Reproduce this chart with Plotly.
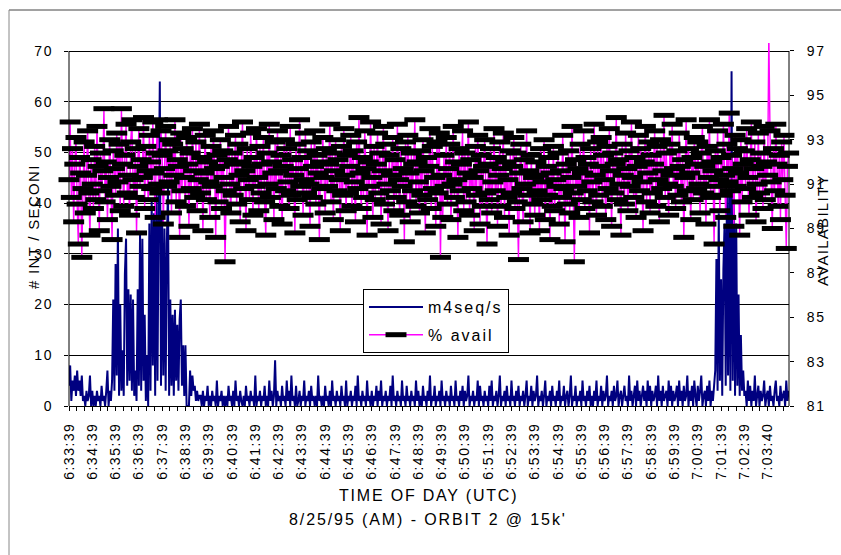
import plotly.graph_objects as go

# Sampling interval of both series, in seconds from 6:33:39
STEP_S = 3

# Minute labels along the time axis (one every 60 s)
TIME_LABELS = [
    "6:33:39", "6:34:39", "6:35:39", "6:36:39", "6:37:39", "6:38:39",
    "6:39:39", "6:40:39", "6:41:39", "6:42:39", "6:43:39", "6:44:39",
    "6:45:39", "6:46:39", "6:47:39", "6:48:39", "6:49:39", "6:50:39",
    "6:51:39", "6:52:39", "6:53:39", "6:54:39", "6:55:39", "6:56:39",
    "6:57:39", "6:58:39", "6:59:39", "7:00:39", "7:01:39", "7:02:39",
    "7:03:40",
]

# m4seq/s : interrupts per second
M4SEQ = [
    4, 8, 1, 5, 3, 6, 2, 7, 3, 5, 2, 6, 1, 2, 0, 3, 1, 2, 6, 0,
    3, 0, 2, 0, 3, 1, 2, 0, 4, 1, 2, 0, 3, 7, 0, 3, 1,
    5, 21, 3, 28, 6, 35, 2, 20, 3, 11,
    2, 26, 33, 4, 23, 5, 22, 3, 21, 2,
    7, 1, 23, 4, 34, 3, 33, 5, 18, 1,
    10, 0, 36, 3, 41, 8, 38, 2, 44, 5,
    39, 64, 4, 37, 6, 35, 3, 32, 43, 2,
    21, 4, 18, 2, 19, 5, 16, 3, 17, 21,
    4, 12, 2, 12, 0, 0, 0, 7, 2, 6,
    3, 4, 1, 3, 1, 2,
    2, 0, 3, 0, 2, 1, 4, 0, 2, 0, 3, 1, 2, 0, 5, 0, 2, 1, 3, 0, 2,
    0, 2, 0, 4, 1, 2, 0, 3, 0, 5, 1, 2, 0, 3, 1, 0, 2, 0, 4, 1, 2,
    0, 3, 1, 2, 0, 6, 0, 2, 1, 3, 0, 2, 1, 4, 0, 2, 0, 5, 1, 3, 0,
    2, 9, 0, 3, 1, 2, 0, 4, 1, 2, 0, 5, 1, 3, 0, 6, 1, 2, 0, 4, 0,
    1, 3, 0, 2, 1, 5, 0, 2, 1, 3, 0, 4, 1, 2, 0, 2, 0, 6, 1, 2, 0,
    2, 0, 4, 1, 2, 0, 3, 0, 5, 1, 2, 0, 3, 1, 2, 0, 4, 1, 2, 0, 5,
    0, 2, 1, 3, 0, 2, 1, 4, 0, 6, 1, 2, 0, 3, 1, 2, 0, 5, 1, 2, 0,
    3, 0, 2, 1, 4, 0, 3, 1, 5, 0, 2, 1, 3, 0, 2, 1, 4, 0, 6, 1, 2,
    0, 3, 1, 2, 0, 5, 1, 2, 0, 4, 1, 2, 0, 3, 1, 2, 0, 5, 1, 3, 0,
    2, 0, 4, 1, 2, 0, 3, 1, 6, 0, 2, 1, 4, 0, 2, 1, 3, 0, 5, 1, 2,
    0, 3, 1, 2, 0, 4, 1, 2, 0, 5, 1, 2, 0, 3, 1, 4, 0, 3, 1, 2, 6,
    0, 2, 1, 3, 0, 2, 1, 5, 0, 4, 1, 2, 0, 3, 1, 2, 0, 4, 1, 5, 0,
    2, 1, 3, 0, 2, 6, 0, 2, 1, 3, 0, 4, 1, 2, 0, 5, 1, 2, 0, 3, 1,
    4, 0, 2, 1, 3, 0, 2, 5, 0, 2, 1, 4, 0, 3, 1, 2, 6, 0, 2, 1, 3,
    0, 2, 5, 0, 2, 1, 3, 0, 4, 1, 2, 0, 3, 1, 5, 0, 2, 1, 4, 0, 2,
    3, 0, 2, 6, 0, 2, 1, 4, 0, 2, 1, 3, 0, 5, 1, 2, 0, 3, 1, 4, 0,
    2, 0, 3, 1, 5, 0, 2, 1, 4, 0, 3, 1, 2, 6, 0, 2, 1, 3, 0, 4, 1,
    2, 5, 0, 2, 3, 0, 2, 4, 1, 2, 0, 6, 1, 3, 0, 2, 4, 0, 5, 1, 3,
    0, 2, 4, 1, 3, 0, 5, 1, 4, 0, 3, 1, 2, 4, 0, 6, 1, 3, 0, 4, 1,
    2, 3, 0, 5, 1, 4, 0, 3, 1, 2, 4, 0, 5, 1, 3, 0, 4, 1, 2, 6, 0,
    3, 1, 4, 0, 5, 2, 0, 4, 1, 3, 6, 0, 2, 3, 0, 4, 1, 5, 0, 3, 1,
    4, 7, 29, 3, 38, 5, 25, 2, 27, 36, 4, 42, 6, 44, 3, 66, 5, 43,
    2, 36, 4, 22, 2, 14, 3, 7, 2,
    3, 0, 5, 1, 4, 0, 3, 1, 6, 0, 2, 4, 0, 3, 1, 2, 5, 0, 2, 3,
    0, 4, 1, 2, 0, 3, 5, 1, 2, 0, 4, 1, 2, 3, 0, 5, 1, 3,
]

# % avail : link availability in percent
AVAIL = [
    91.2, 93.8, 90.4, 92.6, 89.3, 91.9, 93.1, 90.1, 88.3, 92.2, 91.5, 87.7, 90.8, 92.9, 89.7, 91.4, 93.4, 90.6, 88.7, 92.1,
    91.0, 89.9, 92.7, 90.3, 93.6, 91.8, 88.9, 92.4, 90.7, 91.6, 94.4, 90.2, 92.0, 89.4, 91.3, 93.0, 90.9, 88.5, 92.5, 91.7,
    90.5, 93.3, 91.1, 92.8, 89.8, 94.4, 91.9, 90.0, 92.3, 93.7, 90.6, 91.4, 89.6, 92.9, 93.9, 91.2, 90.4, 92.6, 88.8, 91.8,
    93.5, 90.9, 92.1, 91.3, 94.0, 89.9, 92.7, 91.6, 90.3, 93.2, 92.0, 90.8, 93.8, 91.5, 89.5, 92.4, 93.9, 91.0, 90.6, 93.4,
    92.3, 89.2, 91.7, 93.6, 90.9, 92.5, 91.1, 93.0, 89.7, 92.8, 91.4, 93.9, 90.2, 92.1, 91.8, 88.6, 93.3, 90.7, 92.6, 91.3,
    90.0, 93.1, 91.9, 89.1, 92.4, 90.8, 93.5, 91.6, 90.4, 92.9, 89.8, 91.2, 93.7, 90.6, 92.2, 88.9, 91.5, 93.2, 90.3, 92.0,
    91.1, 89.5, 92.7, 90.9, 93.4, 91.7, 88.6, 92.3, 90.2, 91.8, 93.0, 89.9, 92.5, 91.3, 87.5, 90.7, 92.1, 93.6, 91.0, 89.7,
    92.4, 90.5, 91.9, 93.2, 90.1, 92.8, 91.4, 89.3, 92.0, 93.8, 90.8, 91.6, 88.9, 92.6, 91.2, 90.3, 93.3, 91.8, 89.6, 92.2,
    90.9, 93.5, 91.3, 89.8, 92.7, 90.6, 91.9, 93.1, 90.2, 88.7, 92.4, 91.0, 93.7, 90.4, 92.0, 91.5, 89.4, 92.9, 90.8, 93.4,
    91.6, 90.0, 92.3, 89.2, 91.8, 93.0, 90.7, 92.6, 91.1, 89.9, 93.6, 90.5, 92.1, 91.4, 88.8, 92.8, 90.3, 91.7, 93.9, 90.9,
    92.2, 89.6, 91.2, 93.3, 90.6, 92.5, 91.0, 89.1, 92.9, 90.4, 91.8, 93.4, 90.1, 92.3, 91.5, 88.5, 92.0, 90.8, 93.1, 91.3,
    89.7, 92.6, 90.9, 91.9, 93.7, 90.2, 92.4, 89.4, 91.6, 93.0, 90.7, 92.1, 91.2, 88.9, 92.7, 90.5, 93.5, 91.4, 89.8, 92.3,
    90.6, 91.8, 93.2, 90.0, 92.5, 91.1, 89.3, 92.9, 90.8, 94.0, 91.5, 89.9, 92.2, 90.4, 93.4, 91.7, 88.7, 92.0, 90.9, 93.8,
    91.3, 89.5, 92.7, 90.3, 91.9, 93.3, 90.6, 92.4, 89.2, 91.6, 93.6, 90.1, 92.8, 91.0, 88.9, 92.3, 90.7, 91.4, 93.1, 89.8,
    92.1, 90.4, 93.7, 91.2, 89.6, 92.6, 90.9, 91.7, 88.4, 92.9, 90.2, 93.2, 91.5, 89.3, 92.4, 90.7, 91.9, 93.9, 90.0, 92.0,
    91.1, 89.7, 92.5, 90.5, 93.0, 91.6, 88.8, 92.2, 90.3, 91.8, 93.5, 89.9, 92.7, 90.8, 91.3, 89.1, 92.9, 90.6, 93.3, 87.7,
    91.4, 89.5, 92.3, 90.9, 93.1, 90.1, 91.7, 92.8, 89.4, 91.0, 93.6, 90.4, 92.0, 91.2, 88.6, 92.6, 90.7, 91.9, 93.4, 89.8,
    92.4, 90.2, 91.5, 93.8, 89.6, 92.1, 90.8, 91.3, 88.9, 92.7, 90.5, 93.2, 91.6, 89.2, 92.3, 90.0, 91.8, 93.0, 90.6, 88.3,
    91.9, 90.3, 92.6, 89.7, 91.1, 93.5, 90.7, 92.2, 89.1, 91.4, 92.9, 90.0, 91.7, 93.3, 89.5, 92.0, 90.4, 91.2, 88.7, 92.5,
    90.6, 91.8, 93.1, 89.9, 92.4, 90.2, 87.6, 91.5, 92.8, 90.8, 89.3, 92.1, 91.0, 93.4, 90.5, 91.6, 88.8, 92.3, 90.1, 91.3,
    89.6, 92.0, 90.7, 91.4, 88.9, 92.6, 90.3, 91.1, 93.0, 89.4, 91.8, 90.5, 92.2, 88.5, 91.5, 90.0, 92.7, 89.8, 91.2, 90.9,
    92.4, 89.2, 91.6, 90.4, 93.2, 90.8, 88.4, 91.9, 90.1, 92.5, 89.7, 91.3, 93.6, 90.6, 87.5, 92.1, 90.9, 91.7, 89.5, 92.8,
    90.3, 91.5, 93.4, 89.9, 92.2, 90.7, 91.9, 88.8, 92.6, 91.1, 90.2, 93.7, 91.4, 89.6, 92.9, 90.5, 91.8, 93.1, 90.0, 92.3,
    91.2, 89.4, 92.7, 90.8, 93.5, 91.6, 89.1, 92.4, 90.6, 91.9, 94.0, 90.3, 92.1, 91.0, 88.7, 92.8, 91.4, 90.1, 93.3, 91.7,
    89.8, 92.5, 90.9, 93.8, 91.3, 90.4, 92.2, 89.5, 91.8, 93.2, 90.7, 92.6, 91.1, 88.9, 92.0, 93.6, 90.2, 91.5, 92.9, 89.7,
    92.3, 90.6, 91.9, 93.4, 90.0, 92.7, 91.2, 89.3, 93.0, 90.8, 91.6, 94.1, 90.4, 92.4, 91.0, 89.6, 92.8, 91.4, 93.7, 90.9,
    91.7, 89.9, 92.5, 90.5, 93.3, 91.8, 90.2, 92.1, 88.6, 91.3, 93.9, 90.7, 92.6, 91.5, 89.4, 92.2, 90.3, 93.1, 91.9, 90.8,
    92.9, 91.0, 89.7, 92.4, 93.6, 90.6, 91.8, 89.2, 92.7, 91.3, 93.9, 90.4, 92.0, 91.6, 88.3, 92.5, 90.9, 93.4, 91.2, 89.8,
    92.2, 90.5, 93.7, 91.4, 89.5, 92.8, 91.1, 94.2, 90.7, 92.3, 91.7, 89.1, 93.2, 90.9, 92.6, 91.5, 88.7, 93.0, 90.2, 91.9,
    92.5, 90.8, 93.5, 91.3, 89.6, 92.1, 93.8, 90.4, 91.7, 92.9, 89.3, 91.0, 93.3, 90.6, 92.4, 91.8, 89.9, 93.6, 90.3, 92.0,
    91.4, 97.8, 93.4, 91.1, 89.0, 92.6, 90.7, 93.7, 91.9, 90.0, 92.3, 89.4, 92.9, 91.2, 93.2, 90.5, 88.1, 91.8, 92.4,
]

FONT = "Arial, Liberation Sans, sans-serif"

# Axis extents: the plot box reaches slightly above the 70 / 97 gridline
X_END = 1855
Y1_TOP = 71.58
Y2_TOP = 97.36

t = [i * STEP_S for i in range(len(M4SEQ))]


def spaced(text, px):
    return f'<span style="letter-spacing:{px}px">{text}</span>'


# x ticks every 20 s, labelled once a minute
x_tickvals = list(range(0, 1841, 20))
x_ticktext = [spaced(TIME_LABELS[v // 60], 1.5) if v % 60 == 0 else "" for v in x_tickvals]

y1_vals = list(range(0, 71, 10))
y2_vals = list(range(81, 98, 2))

# points beyond the top of the right axis get no marker
avail_sizes = [0 if v > Y2_TOP else 15 for v in AVAIL]

fig = go.Figure()
fig.add_trace(go.Scatter(
    x=t, y=M4SEQ, mode="lines", name=spaced("m4seq/s", 2),
    line=dict(color="#000080", width=2, simplify=False),
    yaxis="y", legendgroup="a", hoverinfo="skip",
))
fig.add_trace(go.Scatter(
    x=t, y=AVAIL, mode="lines+markers", name=spaced("% avail", 2),
    line=dict(color="#FF00FF", width=1.4, simplify=False),
    marker=dict(symbol="line-ew", size=avail_sizes, opacity=1,
                line=dict(color="#000000", width=5)),
    cliponaxis=False, yaxis="y2", legendgroup="b", hoverinfo="skip",
))

tickfont = dict(family=FONT, size=14, color="#000000")

fig.update_layout(
    width=841, height=555,
    margin=dict(l=69, r=52, t=43, b=149),
    paper_bgcolor="white", plot_bgcolor="white",
    font=dict(family=FONT, size=14, color="#000000"),
    showlegend=True,
    legend=dict(
        x=(363 - 69) / 720, y=(406 - 289) / 363, xanchor="left", yanchor="top",
        bgcolor="white", bordercolor="#000000", borderwidth=1,
        font=dict(family=FONT, size=16, color="#000000"),
        traceorder="grouped", tracegroupgap=4, itemwidth=54,
    ),
    xaxis=dict(
        range=[0, X_END], tickmode="array", tickvals=x_tickvals, ticktext=x_ticktext,
        tickangle=-90, ticks="outside", ticklen=4, tickcolor="#000000",
        ticklabelstandoff=6, tickfont=tickfont,
        showline=True, linecolor="#000000", linewidth=1,
        showgrid=False, zeroline=False,
    ),
    xaxis2=dict(
        overlaying="x", anchor="y", range=[0, X_END], tickmode="array",
        tickvals=x_tickvals, ticks="inside", ticklen=4, tickcolor="#000000",
        showticklabels=False, showgrid=False, zeroline=False, showline=False,
    ),
    yaxis=dict(
        range=[0, Y1_TOP], tickmode="array", tickvals=y1_vals,
        ticktext=[spaced(v, 1.7) for v in y1_vals],
        ticks="outside", ticklen=4, tickcolor="#000000", ticklabelstandoff=8,
        tickfont=tickfont, showgrid=True, gridcolor="#000000", gridwidth=1,
        zeroline=False, showline=False,
    ),
    yaxis2=dict(
        overlaying="y", side="right", anchor="x", range=[81, Y2_TOP],
        tickmode="array", tickvals=y2_vals,
        ticktext=[spaced(v, 1.7) for v in y2_vals],
        ticks="outside", ticklen=4, tickcolor="#000000", ticklabelstandoff=10,
        tickfont=tickfont, showgrid=False, zeroline=False, showline=False,
    ),
    yaxis3=dict(
        overlaying="y", side="left", anchor="x", range=[0, Y1_TOP],
        tickmode="array", tickvals=y1_vals, ticks="inside", ticklen=4,
        tickcolor="#000000", showticklabels=False, showgrid=False,
        zeroline=False, showline=False,
    ),
    yaxis4=dict(
        overlaying="y", side="right", anchor="x", range=[81, Y2_TOP],
        tickmode="array", tickvals=y2_vals, ticks="inside", ticklen=4,
        tickcolor="#000000", showticklabels=False, showgrid=False,
        zeroline=False, showline=False,
    ),
)

# value-axis lines, drawn only over the labelled span
fig.add_shape(type="line", xref="paper", x0=0, x1=0, yref="y", y0=0, y1=70,
              line=dict(color="#000000", width=1))
fig.add_shape(type="line", xref="paper", x0=1, x1=1, yref="y2", y0=81, y1=97,
              line=dict(color="#000000", width=1))

# chart-area frame (top and left edges)
fig.add_shape(type="line", xref="paper", yref="paper",
              x0=(9 - 69) / 720, x1=(841 - 69) / 720,
              y0=(406 - 10) / 363, y1=(406 - 10) / 363,
              line=dict(color="#444444", width=1))
fig.add_shape(type="line", xref="paper", yref="paper",
              x0=(9 - 69) / 720, x1=(9 - 69) / 720,
              y0=(406 - 10) / 363, y1=(406 - 560) / 363,
              line=dict(color="#888888", width=1))

# axis titles
fig.add_annotation(text=spaced("TIME OF DAY (UTC)", 1.8), xref="paper", yref="paper",
                   x=(428 - 69) / 720, y=(406 - 495) / 363, showarrow=False,
                   xanchor="center", yanchor="middle", font=dict(family=FONT, size=16))
fig.add_annotation(text=spaced("8/25/95 (AM) - ORBIT 2 @ 15k'", 1.9), xref="paper", yref="paper",
                   x=(428 - 69) / 720, y=(406 - 519.5) / 363, showarrow=False,
                   xanchor="center", yanchor="middle", font=dict(family=FONT, size=16))
fig.add_annotation(text=spaced("# INT / SECONI", 1.3), xref="paper", yref="paper",
                   x=(33 - 69) / 720, y=(406 - 227) / 363, textangle=-90, showarrow=False,
                   xanchor="center", yanchor="middle", font=dict(family=FONT, size=15))
fig.add_annotation(text=spaced("AVAILABILITY", 1.3), xref="paper", yref="paper",
                   x=(822 - 69) / 720, y=(406 - 230) / 363, textangle=-90, showarrow=False,
                   xanchor="center", yanchor="middle", font=dict(family=FONT, size=15))

fig.write_html("out.html")
